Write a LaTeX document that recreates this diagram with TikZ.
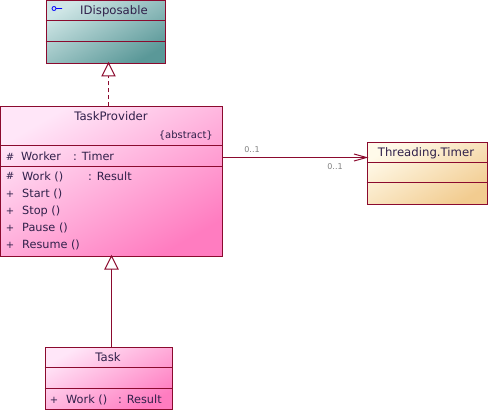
\documentclass[tikz,border=0pt]{standalone}
\usepackage{fontspec}
\setmainfont{DejaVu Sans}
\definecolor{edge}{HTML}{8B0A2E}
\definecolor{ink}{HTML}{30204A}
\definecolor{tealA}{HTML}{CFE6E6}
\definecolor{tealB}{HTML}{94C4C4}
\definecolor{tealC}{HTML}{5A9898}
\definecolor{pinkA}{HTML}{FFE6F8}
\definecolor{pinkB}{HTML}{FFB4E4}
\definecolor{pinkC}{HTML}{FF7CC0}
\definecolor{sandA}{HTML}{FFFAEA}
\definecolor{sandB}{HTML}{FBE6BC}
\definecolor{sandC}{HTML}{F2CC90}
\tikzset{
  x=1pt,y=-1pt,
  box/.style n args={3}{draw=edge,line width=1pt,rectangle,inner sep=0pt,anchor=north west,
    top color=#1,middle color=#2,bottom color=#3,shading angle=30},
  lbl/.style={font=\fontsize{11.7}{13}\selectfont,text=ink,inner sep=0pt,anchor=base},
  mem/.style={lbl,font=\fontsize{11.3}{13}\selectfont,anchor=base west},
  vis/.style={lbl,font=\fontsize{10}{12}\selectfont},
  mult/.style={font=\fontsize{8}{10}\selectfont,text=gray,inner sep=0pt,anchor=base},
  link/.style={draw=edge,line width=1pt},
  tri/.style={draw=edge,line width=1pt,fill=white}
}
\begin{document}
\begin{tikzpicture}
\useasboundingbox (0,0) rectangle (489,411);
% classes
\node[box={tealA}{tealB}{tealC},minimum width=119.5pt,minimum height=63pt] (idisp) at (45.5,0) {};
\node[box={pinkA}{pinkB}{pinkC},minimum width=222pt,minimum height=150pt] (prov) at (0,106.5) {};
\node[box={pinkA}{pinkB}{pinkC},minimum width=127pt,minimum height=62.5pt] (task) at (44.5,346.5) {};
\node[box={sandA}{sandB}{sandC},minimum width=120pt,minimum height=62pt] (timer) at (366.5,142) {};
% compartments
\draw[link] (45.5,21) -- (165,21) (45.5,42) -- (165,42);
\draw[link] (0,145.5) -- (222,145.5) (0,166.5) -- (222,166.5);
\draw[link] (44.5,367.5) -- (171.5,367.5) (44.5,388) -- (171.5,388);
\draw[link] (366.5,162.5) -- (486.5,162.5) (366.5,183) -- (486.5,183);
% interface icon
\draw[blue,line width=.8pt] (54,8.5) circle (2pt) (56,8.5) -- (62,8.5);
% texts
\node[lbl] (t1) at (114,15) {IDisposable};
\node[lbl] (t2) at (111,121) {TaskProvider};
\node[lbl,font=\fontsize{10}{12}\selectfont,anchor=base east] (t3) at (213,139) {\{abstract\}};
\node[vis] (v1) at (10,161) {\#};
\node[mem] (m1) at (21,161) {Worker};
\node[mem] (m1b) at (73,161) {: Timer};
\node[vis] (v2) at (10,180) {\#};
\node[mem] (m2) at (22,181) {Work ()};
\node[mem] (m2b) at (88,181) {: Result};
\node[vis] (v3) at (10,198) {+};
\node[mem] (m3) at (22,198) {Start ()};
\node[vis] (v4) at (10,215) {+};
\node[mem] (m4) at (22,215) {Stop ()};
\node[vis] (v5) at (10,232) {+};
\node[mem] (m5) at (22,232) {Pause ()};
\node[vis] (v6) at (10,249) {+};
\node[mem] (m6) at (22,249) {Resume ()};
\node[lbl] (t4) at (108,361) {Task};
\node[vis] (v7) at (54,403) {+};
\node[mem] (m7) at (66,403) {Work ()};
\node[mem] (m7b) at (118,403) {: Result};
\node[lbl] (t5) at (426,157) {Threading.Timer};
% connectors
\coordinate (a1) at (108.5,63);
\coordinate (a2) at (108.5,106.5);
\draw[link,dash pattern=on 4pt off 3pt] (a2) -- (108.5,76);
\path[tri] (108.5,63) -- (115,76) -- (102,76) -- cycle;
\draw[link] (111.5,346.5) -- (111.5,269);
\path[tri] (111.5,256) -- (118,269) -- (105,269) -- cycle;
\draw[link] (222,157.5) -- (366.5,157.5);
\draw[link] (354,154) -- (366.5,157.5) -- (354,161);
\node[mult] (c1) at (252,153) {0..1};
\node[mult] (c2) at (335,170) {0..1};
\end{tikzpicture}
\end{document}
